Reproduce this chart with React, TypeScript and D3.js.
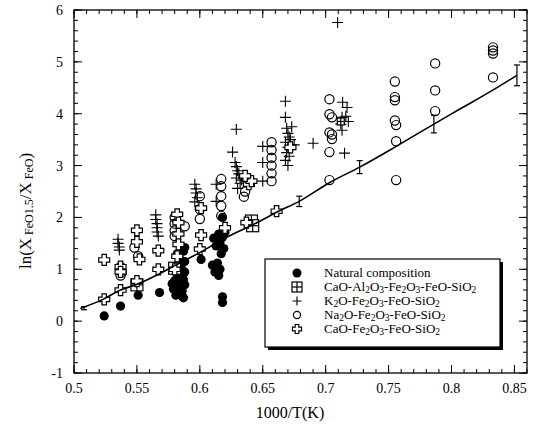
import React from "react";
import * as d3 from "d3";

// 1000/T(K) vs ln(X FeO1.5 / X FeO)
const natural: [number, number][] = [
  [0.524, 0.1], [0.537, 0.29], [0.551, 0.5], [0.568, 0.55],
  [0.579, 0.62], [0.58, 0.78], [0.581, 0.5], [0.582, 0.92], [0.583, 0.68],
  [0.584, 1.2], [0.585, 0.55], [0.585, 1.05], [0.586, 0.85], [0.587, 0.45],
  [0.587, 1.35], [0.588, 0.7], [0.588, 0.95], [0.588, 1.15], [0.586, 0.58],
  [0.588, 1.42], [0.587, 0.8], [0.586, 0.48], [0.582, 1.3], [0.578, 0.72],
  [0.601, 1.19],
  [0.611, 1.6], [0.613, 1.45], [0.615, 1.68], [0.616, 1.52], [0.618, 1.62],
  [0.619, 1.4], [0.617, 1.3], [0.62, 1.72],
  [0.61, 1.08], [0.612, 0.95], [0.614, 1.12], [0.615, 0.88], [0.616, 1.0],
  [0.618, 0.47], [0.618, 0.36], [0.618, 2.0],
];

const caoAl: [number, number][] = [
  [0.55, 0.7], [0.58, 1.02], [0.641, 1.93], [0.642, 1.84], [0.712, 3.85],
];

const k2o: [number, number][] = [
  [0.535, 1.58], [0.535, 1.5], [0.536, 1.43], [0.536, 1.37],
  [0.565, 2.05], [0.565, 1.96], [0.566, 1.88], [0.566, 1.8], [0.566, 1.72], [0.567, 1.64],
  [0.582, 2.06], [0.581, 1.95],
  [0.596, 2.64], [0.597, 2.55], [0.597, 2.47], [0.598, 2.38], [0.596, 2.3],
  [0.613, 2.64], [0.613, 2.31],
  [0.629, 3.7], [0.626, 3.26], [0.628, 3.06], [0.629, 2.98], [0.63, 2.9], [0.631, 2.84],
  [0.629, 2.76], [0.632, 2.66], [0.63, 2.56], [0.633, 2.72],
  [0.65, 3.37], [0.65, 3.06], [0.65, 2.7],
  [0.668, 4.24], [0.668, 3.93], [0.669, 3.72], [0.67, 3.62], [0.671, 3.55], [0.672, 3.5],
  [0.668, 3.45], [0.67, 3.35], [0.669, 3.25], [0.671, 3.18], [0.668, 3.1], [0.67, 3.0],
  [0.673, 3.75], [0.675, 3.4],
  [0.69, 3.43],
  [0.7095, 5.76], [0.7135, 4.22], [0.717, 4.12], [0.713, 3.93], [0.712, 3.8],
  [0.713, 3.68], [0.715, 3.24], [0.716, 3.95], [0.718, 3.85],
];

const na2o: [number, number][] = [
  [0.537, 1.05], [0.538, 0.95], [0.537, 0.88], [0.548, 1.42], [0.551, 1.25],
  [0.58, 2.0], [0.58, 1.88], [0.58, 1.75], [0.58, 1.64], [0.588, 1.83],
  [0.6, 2.41], [0.6, 2.16], [0.6, 1.97],
  [0.617, 2.74], [0.617, 2.6], [0.617, 2.41], [0.617, 2.22], [0.617, 2.03],
  [0.636, 2.5], [0.635, 2.4],
  [0.657, 3.45], [0.657, 3.3], [0.657, 3.15], [0.657, 3.0], [0.657, 2.85], [0.657, 2.7],
  [0.703, 4.28], [0.703, 3.99], [0.705, 3.93], [0.703, 3.64], [0.705, 3.6],
  [0.705, 3.51], [0.703, 3.26], [0.703, 2.72],
  [0.755, 4.62], [0.755, 4.32], [0.755, 4.26], [0.755, 3.87], [0.756, 3.78],
  [0.756, 3.47], [0.756, 2.72],
  [0.787, 4.97], [0.787, 4.45], [0.787, 4.05],
  [0.833, 5.28], [0.833, 5.22], [0.833, 5.16], [0.833, 4.7],
];

const caoFe: [number, number][] = [
  [0.524, 1.18], [0.524, 0.42], [0.537, 0.6], [0.537, 1.05], [0.537, 0.95],
  [0.55, 1.75], [0.55, 1.53], [0.552, 1.19], [0.55, 0.77],
  [0.567, 1.0], [0.567, 1.36],
  [0.582, 2.06], [0.583, 1.9], [0.583, 1.68], [0.583, 1.48], [0.582, 1.25], [0.58, 1.0],
  [0.601, 2.18], [0.601, 1.66], [0.6, 1.39],
  [0.62, 1.8],
  [0.637, 1.9], [0.638, 2.74], [0.639, 2.64], [0.641, 2.7], [0.636, 2.8],
  [0.661, 2.12], [0.672, 3.35],
];

const fitLine: [number, number][] = [
  [0.505, 0.245], [0.523, 0.42], [0.537, 0.6], [0.55, 0.71], [0.566, 0.89],
  [0.58, 1.07], [0.602, 1.35], [0.616, 1.55], [0.637, 1.8], [0.648, 1.93],
  [0.661, 2.1], [0.679, 2.31], [0.703, 2.67], [0.727, 2.97], [0.756, 3.37],
  [0.786, 3.8], [0.806, 4.08], [0.8325, 4.45], [0.852, 4.74],
];

// x, y, half-range
const errBars: [number, number, number][] = [
  [0.508, 0.25, 0.03], [0.679, 2.31, 0.1], [0.727, 2.97, 0.125],
  [0.786, 3.8, 0.17], [0.852, 4.74, 0.2],
];

const xTicks = [0.5, 0.55, 0.6, 0.65, 0.7, 0.75, 0.8, 0.85];
const yTicks = [-1, 0, 1, 2, 3, 4, 5, 6];

const legendLabels = [
  "Natural composition",
  "CaO-Al2O3-Fe2O3-FeO-SiO2",
  "K2O-Fe2O3-FeO-SiO2",
  "Na2O-Fe2O3-FeO-SiO2",
  "CaO-Fe2O3-FeO-SiO2",
];

const W = 536;
const H = 433;
const L = 74, R = 527, T = 10, B = 373;
const FONT = "'Liberation Serif', 'Times New Roman', serif";

const x = d3.scaleLinear().domain([0.5, 0.86]).range([L, R]);
const y = d3.scaleLinear().domain([-1, 6]).range([B, T]);

function crossPath(a: number, l: number) {
  const p = [
    [-a, -l], [a, -l], [a, -a], [l, -a], [l, a], [a, a],
    [a, l], [-a, l], [-a, a], [-l, a], [-l, -a], [-a, -a],
  ];
  return "M" + p.map((q) => q.join(",")).join("L") + "Z";
}

function Formula({ text, size, sub }: { text: string; size: number; sub: number }) {
  const parts = text.match(/\d+|\D+/g) || [];
  return (
    <>
      {parts.map((p, i) =>
        /\d/.test(p) ? (
          <tspan key={i} fontSize={sub} dy={1.5}>{p}</tspan>
        ) : (
          <tspan key={i} fontSize={size} dy={i > 0 ? -1.5 : 0}>{p}</tspan>
        )
      )}
    </>
  );
}

function Square({ cx, cy, s }: { cx: number; cy: number; s: number }) {
  return (
    <g transform={`translate(${cx},${cy})`}>
      <rect x={-s / 2} y={-s / 2} width={s} height={s} fill="white" stroke="black" strokeWidth={1.2} />
      <line x1={-s / 2} x2={s / 2} y1={0} y2={0} stroke="black" strokeWidth={1.2} />
      <line y1={-s / 2} y2={s / 2} x1={0} x2={0} stroke="black" strokeWidth={1.2} />
    </g>
  );
}

function Plus({ cx, cy, l }: { cx: number; cy: number; l: number }) {
  return (
    <path d={`M${cx - l},${cy}H${cx + l}M${cx},${cy - l}V${cy + l}`} stroke="black" strokeWidth={1.1} fill="none" />
  );
}

export default function App() {
  const line = d3
    .line<[number, number]>()
    .x((d) => x(d[0]))
    .y((d) => y(d[1]))
    .curve(d3.curveMonotoneX);
  const xMinor = d3.range(50, 87).map((v) => v / 100);
  const yMinor = d3.range(-5, 31).map((v) => v / 5);
  const cross = crossPath(2.2, 5.5);
  const crossSmall = crossPath(1.8, 4.5);

  const legX = 265, legY = 259, legW = 235, legH = 88;
  const rowY = (i: number) => legY + 14 + i * 14;

  return (
    <svg width={W} height={H} style={{ position: "absolute", left: 0, top: 0, background: "white" }} fontFamily={FONT}>
      <rect width={W} height={H} fill="white" />

      {/* minor ticks */}
      {xMinor.map((v, i) => (
        <g key={"xm" + i}>
          <line x1={x(v)} x2={x(v)} y1={B} y2={B - 4} stroke="black" />
          <line x1={x(v)} x2={x(v)} y1={T} y2={T + 4} stroke="black" />
        </g>
      ))}
      {yMinor.map((v, i) => (
        <g key={"ym" + i}>
          <line x1={L} x2={L + 4} y1={y(v)} y2={y(v)} stroke="black" />
          <line x1={R} x2={R - 4} y1={y(v)} y2={y(v)} stroke="black" />
        </g>
      ))}
      {xTicks.map((v) => (
        <g key={"xt" + v}>
          <line x1={x(v)} x2={x(v)} y1={B} y2={B - 8} stroke="black" />
          <line x1={x(v)} x2={x(v)} y1={T} y2={T + 8} stroke="black" />
          <text x={x(v)} y={393} textAnchor="middle" fontSize={14}>{v}</text>
        </g>
      ))}
      {yTicks.map((v) => (
        <g key={"yt" + v}>
          <line x1={L} x2={L + 8} y1={y(v)} y2={y(v)} stroke="black" />
          <line x1={R} x2={R - 8} y1={y(v)} y2={y(v)} stroke="black" />
          <text x={63} y={y(v) + 5} textAnchor="end" fontSize={14}>{v}</text>
        </g>
      ))}
      <rect x={L} y={T} width={R - L} height={B - T} fill="none" stroke="black" strokeWidth={1.3} />

      {/* data */}
      {natural.map((d, i) => (
        <circle key={"n" + i} cx={x(d[0])} cy={y(d[1])} r={4.6} fill="black" />
      ))}
      {na2o.map((d, i) => (
        <circle key={"na" + i} cx={x(d[0])} cy={y(d[1])} r={4.6} fill="none" stroke="black" strokeWidth={1.2} />
      ))}
      {k2o.map((d, i) => (
        <Plus key={"k" + i} cx={x(d[0])} cy={y(d[1])} l={5.5} />
      ))}
      {caoAl.map((d, i) => (
        <Square key={"s" + i} cx={x(d[0])} cy={y(d[1])} s={i === 4 ? 7 : 12} />
      ))}
      {caoFe.map((d, i) => (
        <path key={"c" + i} d={cross} transform={`translate(${x(d[0])},${y(d[1])})`} fill="white" stroke="black" strokeWidth={1.2} />
      ))}

      <path d={line(fitLine) || ""} fill="none" stroke="black" strokeWidth={1.6} />
      {errBars.map((e, i) => (
        <g key={"e" + i} stroke="black" strokeWidth={1.2}>
          <line x1={x(e[0])} x2={x(e[0])} y1={y(e[1] - e[2])} y2={y(e[1] + e[2])} />
          <line x1={x(e[0]) - 3} x2={x(e[0]) + 3} y1={y(e[1] - e[2])} y2={y(e[1] - e[2])} />
          <line x1={x(e[0]) - 3} x2={x(e[0]) + 3} y1={y(e[1] + e[2])} y2={y(e[1] + e[2])} />
        </g>
      ))}

      {/* legend */}
      <rect x={legX + 3} y={legY + 3} width={legW} height={legH} fill="black" />
      <rect x={legX} y={legY} width={legW} height={legH} fill="white" stroke="black" strokeWidth={1.2} />
      <circle cx={297} cy={rowY(0)} r={4.5} fill="black" />
      <Square cx={297} cy={rowY(1)} s={10} />
      <Plus cx={297} cy={rowY(2)} l={4.5} />
      <circle cx={297} cy={rowY(3)} r={3.6} fill="none" stroke="black" strokeWidth={1.2} />
      <path d={crossSmall} transform={`translate(297,${rowY(4)})`} fill="white" stroke="black" strokeWidth={1.2} />
      {legendLabels.map((t, i) => (
        <text key={"l" + i} x={324} y={rowY(i) + 4} fontSize={13}>
          <Formula text={t} size={13} sub={9.5} />
        </text>
      ))}

      {/* axis titles */}
      <text x={290} y={418} textAnchor="middle" fontSize={16}>1000/T(K)</text>
      <text transform="translate(31,211) rotate(-90)" textAnchor="middle" fontSize={17}>
        <tspan>ln(X</tspan>
        <tspan fontSize={12} dy={2}> FeO1.5</tspan>
        <tspan dy={-2}>/X</tspan>
        <tspan fontSize={12} dy={2}> FeO</tspan>
        <tspan dy={-2}>)</tspan>
      </text>
    </svg>
  );
}
